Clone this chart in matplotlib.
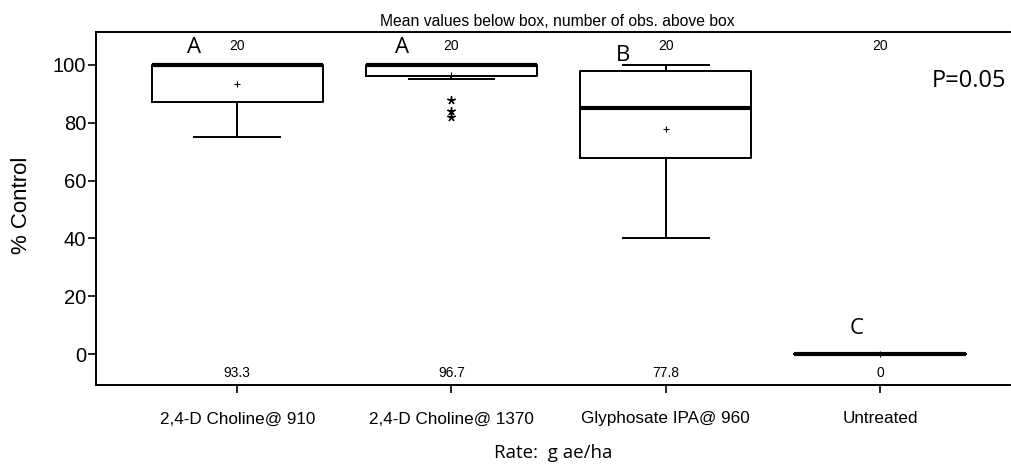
import numpy as np
import matplotlib.pyplot as plt

# Box summaries
treatments = ["2,4-D Choline@ 910", "2,4-D Choline@ 1370", "Glyphosate IPA@ 960", "Untreated"]
q1 = [87.2, 96.2, 67.8, 0]
medians = [100, 100, 85.1, 0]
q3 = [100, 100, 98.0, 0]
whis_lo = [75, 95.3, 40, 0]
whis_hi = [100, 100, 100, 0]
means = [93.3, 96.7, 77.8, 0]
mean_labels = ["93.3", "96.7", "77.8", "0"]
outliers = [[], [88, 84, 82], [], []]
n_obs = [20, 20, 20, 20]
letters = ["A", "A", "B", "C"]
letter_y = [106.2, 106.2, 103.3, 8.7]
letter_dx = [-0.2, -0.23, -0.2, -0.107]

plt.rcParams['font.family'] = ['Liberation Sans', 'DejaVu Sans']

fig = plt.figure(figsize=(10.11, 4.68), dpi=100)
ax = fig.add_axes([0.095, 0.1774, 0.904, 0.7542])

pos = np.arange(1, len(treatments) + 1)
stats = []
for i in range(len(treatments)):
    stats.append(dict(med=medians[i], q1=q1[i], q3=q3[i], whislo=whis_lo[i],
                      whishi=whis_hi[i], mean=means[i], fliers=outliers[i]))

ax.bxp(stats, positions=pos, widths=0.8, showmeans=True, showcaps=True,
       boxprops=dict(color="black", linewidth=1.4),
       medianprops=dict(color="black", linewidth=3),
       whiskerprops=dict(color="black", linewidth=1.4),
       capprops=dict(color="black", linewidth=1.4),
       capwidths=0.4,
       meanprops=dict(marker="+", markeredgecolor="black", markersize=5, markeredgewidth=0.8),
       flierprops=dict(marker=(5, 2, 0), markeredgecolor="black", markerfacecolor="black",
                       markersize=6, markeredgewidth=1.0, linestyle="none"))

ax.set_xlim(0.341, 4.607)
ax.set_ylim(-10.7, 111.4)
ax.set_yticks([0, 20, 40, 60, 80, 100])
ax.tick_params(axis="y", labelsize=14.5, length=6, width=1.2, colors="black", pad=1)
ax.tick_params(axis="x", labelsize=12.3, length=6, width=1.2, pad=13)
ax.set_xticks(pos)
ax.set_xticklabels(treatments)
ax.spines["right"].set_visible(False)
for s in ["left", "top", "bottom"]:
    ax.spines[s].set_linewidth(1.4)

# axis titles placed in figure coords
fig.text(22 / 1011, 1 - 205 / 468, "% Control", rotation=90, ha="center", va="center",
         fontsize=16)
fig.text(553 / 1011, 1 - 453 / 468, "Rate:  g ae/ha", ha="center", va="center",
         fontsize=13.5, family=["Open Sans"])

# n above the boxes, means below
for i, p in enumerate(pos):
    ax.text(p, 106.6, str(n_obs[i]), ha="center", va="center", fontsize=10)
    ax.text(p, -6.6, mean_labels[i], ha="center", va="center", fontsize=10)

# significance letters
for i, p in enumerate(pos):
    ax.text(p + letter_dx[i], letter_y[i], letters[i], ha="center", va="center",
            fontsize=16, family=["Open Sans"])

ax.text(0.9956, 0.86, "P=0.05", transform=ax.transAxes, ha="right",
        va="center", fontsize=17, family=["Open Sans"])

fig.text(557 / 1011, 1 - 21 / 468, "Mean values below box, number of obs. above box",
         ha="center", va="center", fontsize=11.3)

fig.savefig("out.png", dpi=100)
